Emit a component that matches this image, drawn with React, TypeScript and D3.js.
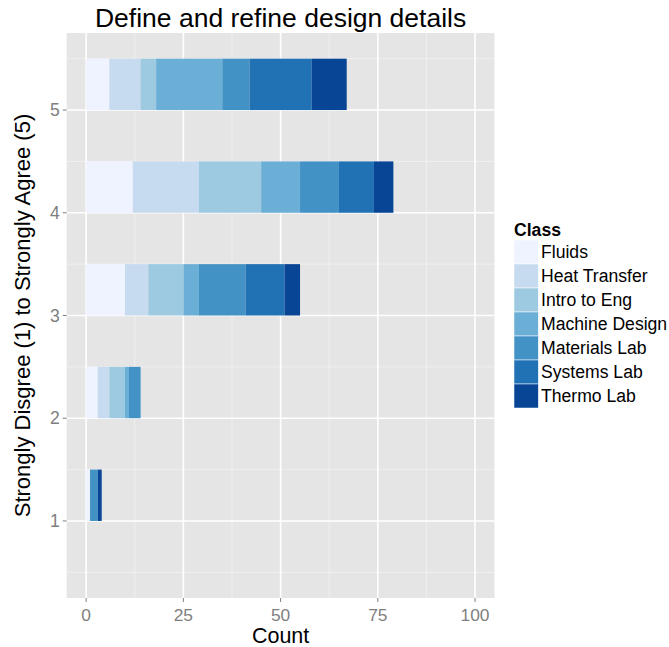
import React from "react";
import * as d3 from "d3";

const ratings = [1, 2, 3, 4, 5];
const classes = [
  "Fluids",
  "Heat Transfer",
  "Intro to Eng",
  "Machine Design",
  "Materials Lab",
  "Systems Lab",
  "Thermo Lab",
];
const fluids = [1, 3, 10, 12, 6];
const heatTransfer = [0, 3, 6, 17, 8];
const introToEng = [0, 4, 9, 16, 4];
const machineDesign = [0, 1, 4, 10, 17];
const materialsLab = [2, 3, 12, 10, 7];
const systemsLab = [0, 0, 10, 9, 16];
const thermoLab = [1, 0, 4, 5, 9];
const xTicks = [0, 25, 50, 75, 100];
const xMinor = [12.5, 37.5, 62.5, 87.5];
const yMinor = [0.5, 1.5, 2.5, 3.5, 4.5, 5.5];
const colors = ["#EFF3FF", "#C6DBEF", "#9ECAE1", "#6BAED6", "#4292C6", "#2171B5", "#084594"];

const seriesValues = [fluids, heatTransfer, introToEng, machineDesign, materialsLab, systemsLab, thermoLab];

export default function App() {
  const W = 669, H = 647;
  const left = 66.7, right = 494.5, top = 33, bottom = 598;
  const x = d3.scaleLinear().domain([-5, 105]).range([left, right]);
  const y = d3.scaleLinear().domain([0.25, 5.75]).range([bottom, top]);
  const font = "'Liberation Sans', Arial, Helvetica, sans-serif";

  const rows = ratings.map((r, i) => {
    const obj: any = { rating: r };
    classes.forEach((c, k) => (obj[c] = seriesValues[k][i]));
    return obj;
  });
  const stacked = d3.stack().keys(classes)(rows);
  const color = d3.scaleOrdinal<string, string>().domain(classes).range(colors);

  return (
    <svg width={W} height={H} style={{ position: "absolute", left: 0, top: 0 }} fontFamily={font}>
      <rect x={0} y={0} width={W} height={H} fill="white" />
      <rect x={left} y={top} width={right - left} height={bottom - top} fill="#E5E5E5" />
      {xMinor.map((t) => (
        <line key={"xm" + t} x1={x(t)} x2={x(t)} y1={top} y2={bottom} stroke="#F2F2F2" strokeWidth={0.8} />
      ))}
      {yMinor.map((t) => (
        <line key={"ym" + t} x1={left} x2={right} y1={y(t)} y2={y(t)} stroke="#F2F2F2" strokeWidth={0.8} />
      ))}
      {xTicks.map((t) => (
        <line key={"xM" + t} x1={x(t)} x2={x(t)} y1={top} y2={bottom} stroke="white" strokeWidth={1.6} />
      ))}
      {ratings.map((t) => (
        <line key={"yM" + t} x1={left} x2={right} y1={y(t)} y2={y(t)} stroke="white" strokeWidth={1.6} />
      ))}
      {stacked.map((layer) => (
        <g key={layer.key} fill={color(layer.key)}>
          {layer.map((d, i) => {
            const w = x(d[1]) - x(d[0]);
            if (w <= 0) return null;
            return (
              <rect
                key={i}
                x={x(d[0])}
                width={w}
                y={y(ratings[i] + 0.5)}
                height={y(ratings[i]) - y(ratings[i] + 0.5)}
              />
            );
          })}
        </g>
      ))}
      {/* x axis */}
      {xTicks.map((t) => (
        <g key={"xt" + t}>
          <line x1={x(t)} x2={x(t)} y1={bottom} y2={bottom + 4} stroke="#7F7F7F" strokeWidth={1} />
          <text x={x(t)} y={620.8} textAnchor="middle" fontSize={17.4} fill="#7F7F7F">
            {t}
          </text>
        </g>
      ))}
      {ratings.map((t) => (
        <g key={"yt" + t}>
          <line x1={left - 4} x2={left} y1={y(t)} y2={y(t)} stroke="#7F7F7F" strokeWidth={1} />
          <text x={left - 7} y={y(t) + 6} textAnchor="end" fontSize={17.6} fill="#7F7F7F">
            {t}
          </text>
        </g>
      ))}
      <text x={(left + right) / 2} y={643} textAnchor="middle" fontSize={21.5} fill="black">
        Count
      </text>
      <text
        transform={`translate(30, ${(top + bottom) / 2}) rotate(-90)`}
        textAnchor="middle"
        fontSize={22}
        fill="black"
      >
        Strongly Disgree (1) to Strongly Agree (5)
      </text>
      <text x={(left + right) / 2} y={26.8} textAnchor="middle" fontSize={26.5} fill="black">
        Define and refine design details
      </text>
      {/* legend */}
      <text x={514} y={235.7} fontSize={17.6} fontWeight="bold" fill="black">
        Class
      </text>
      {classes.map((c, i) => (
        <g key={"lg" + c}>
          <rect x={514} y={240 + i * 24} width={24.3} height={24} fill={color(c)} stroke="white" strokeWidth={0.5} />
          <text x={541} y={240 + i * 24 + 18.3} fontSize={17.6} fill="black">
            {c}
          </text>
        </g>
      ))}
    </svg>
  );
}
